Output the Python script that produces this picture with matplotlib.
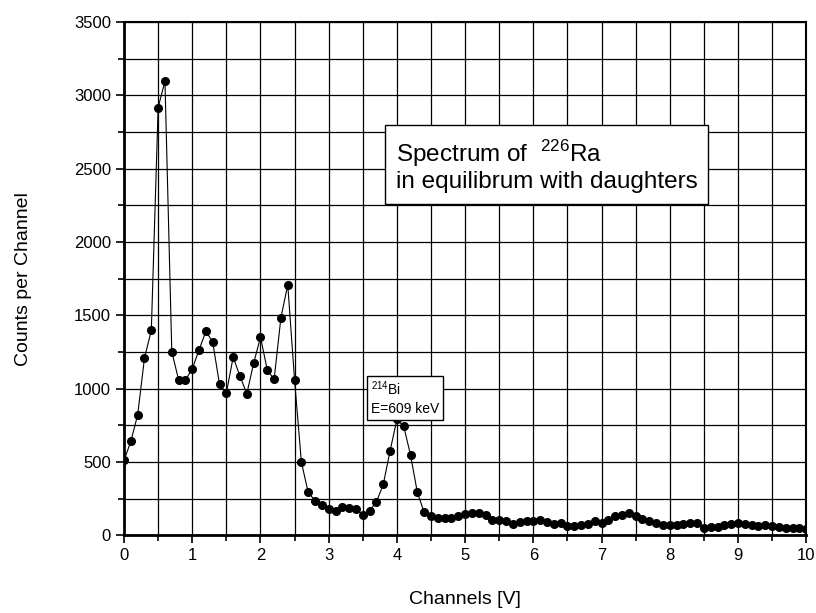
import numpy as np
import matplotlib
matplotlib.use("Agg")
import matplotlib.pyplot as plt
from matplotlib.ticker import MultipleLocator

plt.rcParams['font.family'] = ['Liberation Sans', 'DejaVu Sans']
plt.rcParams['mathtext.fontset'] = 'custom'
plt.rcParams['mathtext.rm'] = 'Liberation Sans'

# channel voltage, 0.1 V steps
channels = np.round(np.arange(0, 10.01, 0.1), 1)
counts = [
    510, 640, 821, 1209, 1397, 2917, 3097, 1252, 1059, 1059,
    1134, 1264, 1391, 1316, 1028, 971, 1214, 1084, 964, 1173,
    1350, 1127, 1062, 1484, 1708, 1057, 498, 291, 236, 209,
    177, 168, 191, 186, 177, 139, 166, 227, 346, 575,
    789, 743, 546, 291, 155, 130, 116, 114, 118, 134,
    146, 148, 148, 140, 105, 100, 95, 78, 90, 95,
    95, 100, 90, 75, 85, 62, 62, 66, 75, 95,
    80, 100, 130, 135, 150, 130, 110, 95, 82, 72,
    66, 66, 78, 82, 82, 52, 56, 56, 66, 76,
    80, 76, 70, 62, 66, 60, 56, 52, 50, 46,
    42,
]

fig = plt.figure(figsize=(8.16, 6.13), dpi=100)
ax = fig.add_axes([0.152, 0.127, 0.836, 0.837])

ax.plot(channels, counts, color='black', lw=0.8, marker='o', ms=5.5,
        mfc='black', mec='black', zorder=3)

ax.set_xlim(0, 10)
ax.set_ylim(0, 3500)
ax.xaxis.set_major_locator(MultipleLocator(1))
ax.xaxis.set_minor_locator(MultipleLocator(0.5))
ax.yaxis.set_major_locator(MultipleLocator(500))
ax.yaxis.set_minor_locator(MultipleLocator(250))
ax.grid(which='both', color='black', lw=0.9)
ax.set_axisbelow(True)
ax.tick_params(which='both', direction='out', labelsize=12, width=1.2)
ax.tick_params(which='major', length=6)
ax.tick_params(which='minor', length=4)
ax.tick_params(top=False, right=False)
for s in ['left', 'bottom']:
    ax.spines[s].set_linewidth(2)
for s in ['top', 'right']:
    ax.spines[s].set_linewidth(1.5)

ax.set_xlabel('Channels [V]', fontsize=14, labelpad=20)
ax.set_ylabel('Counts per Channel', fontsize=14, labelpad=30)

ax.text(3.98, 2520, 'Spectrum of  $^{226}$Ra\nin equilibrum with daughters',
        fontsize=17.5, linespacing=1.15, va='center', ha='left',
        bbox=dict(boxstyle='square,pad=0.45', fc='white', ec='black', lw=1))

ax.text(3.62, 935, '$^{214}$Bi\nE=609 keV', fontsize=10, va='center', ha='left',
        linespacing=1.35,
        bbox=dict(boxstyle='square,pad=0.3', fc='white', ec='black', lw=1))

fig.savefig('out.png', dpi=100)
